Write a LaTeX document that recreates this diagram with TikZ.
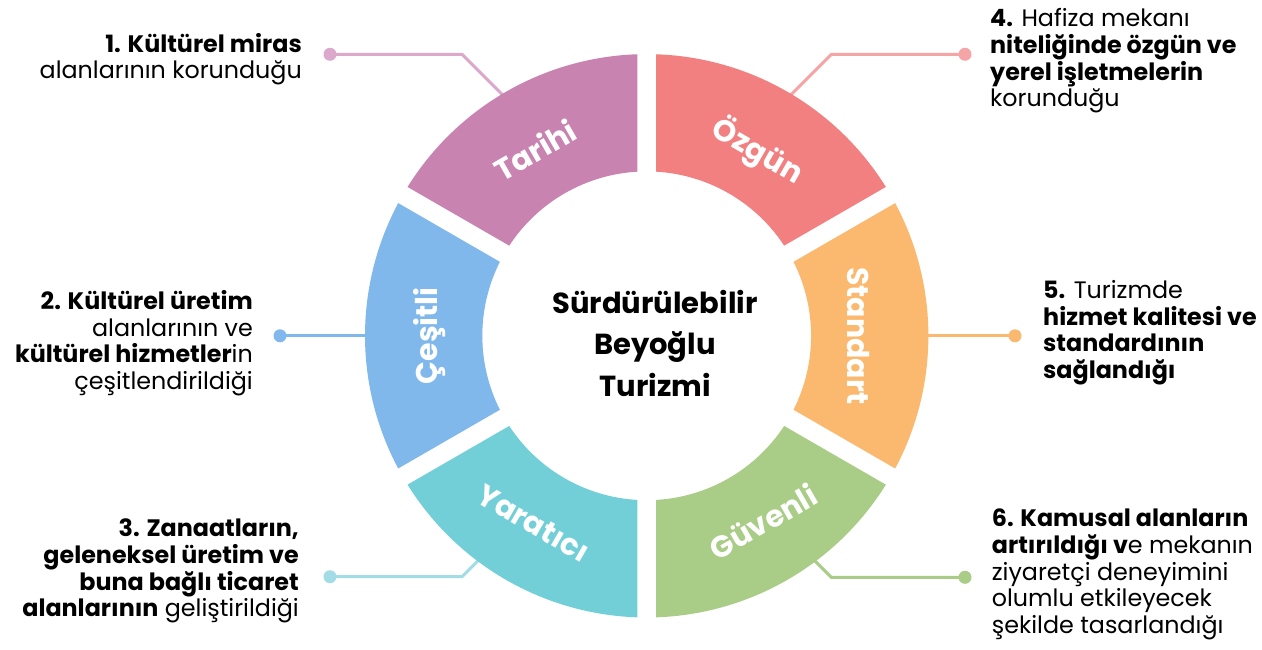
\documentclass[tikz,border=0pt]{standalone}
\usepackage{fontspec}
\setmainfont{Poppins}
\definecolor{tarC}{HTML}{C983B0}
\definecolor{ozgC}{HTML}{F28080}
\definecolor{staC}{HTML}{FBB96F}
\definecolor{guvC}{HTML}{A9CC86}
\definecolor{yarC}{HTML}{72CFD8}
\definecolor{cesC}{HTML}{80B8EC}
\definecolor{tarL}{HTML}{DCA8CB}
\definecolor{ozgL}{HTML}{F5A5A5}
\definecolor{yarL}{HTML}{A2DDE5}
\begin{document}
\begin{tikzpicture}[x=1pt,y=-1pt,
  lbl/.style={font=\fontsize{23.8}{26.7}\selectfont, inner sep=0pt, text=black},
  seglbl/.style={font=\bfseries\fontsize{30}{32}\selectfont, text=white, inner sep=0pt},
  conn/.style={line width=3pt},
  dotnode/.style={circle, inner sep=0pt, minimum size=13pt}]
\useasboundingbox (0,0) rectangle (1262,650);
\fill[white] (0,0) rectangle (1262,650);

% connector end points
\coordinate (e1) at (462,54.3);   \coordinate (c1) at (505,97.3);
\coordinate (e4) at (831.4,54.3); \coordinate (c4) at (788.4,97.3);
\coordinate (c2) at (372,335.8);
\coordinate (c5) at (922,335.8);
\coordinate (e3) at (462,576.7);  \coordinate (c3) at (481,557.7);
\coordinate (e6) at (831.4,577.3);\coordinate (c6) at (812.4,558.3);

% dots
\node[dotnode, fill=tarL] (d1) at (330,54.3) {};
\node[dotnode, fill=ozgL] (d4) at (965,54.3) {};
\node[dotnode, fill=cesC] (d2) at (280,335.8) {};
\node[dotnode, fill=staC] (d5) at (1015,335.8) {};
\node[dotnode, fill=yarL] (d3) at (330,576.7) {};
\node[dotnode, fill=guvC] (d6) at (965,577.3) {};

% connectors
\draw[conn, tarL] (d1.center) -- (e1) -- (c1);
\draw[conn, ozgL] (d4.center) -- (e4) -- (c4);
\draw[conn, cesC] (d2.center) -- (c2);
\draw[conn, staC] (d5.center) -- (c5);
\draw[conn, yarL] (d3.center) -- (e3) -- (c3);
\draw[conn, guvC] (d6.center) -- (e6) -- (c6);

% ring
\begin{scope}[shift={(646.7,335.8)}, x=1pt, y=1pt]
  \foreach \a/\c in {90/tarC, 30/ozgC, -30/staC, -90/guvC, 210/yarC, 150/cesC}{
    \fill[\c] (\a+1.9:281.7) arc[start angle=\a+1.9, end angle=\a+58.1, radius=281.7]
      -- (\a+56.74:164.4) arc[start angle=\a+56.74, end angle=\a+3.26, radius=164.4] -- cycle;
  }
  \node[seglbl, rotate=30]  (sTar) at (121:217) {Tarihi};
  \node[seglbl, rotate=-30] (sOzg) at (59:215) {Özgün};
  \node[seglbl, rotate=-90] (sSta) at (0:212) {Standart};
  \node[seglbl, rotate=30]  (sGuv) at (-58:219) {Güvenli};
  \node[seglbl, rotate=-30] (sYar) at (238.8:219) {Yaratıcı};
  \node[seglbl, rotate=90]  (sCes) at (180:217) {Çeşitli};
\end{scope}

% centre
\node[font=\bfseries\fontsize{29}{41.5}\selectfont, align=center, inner sep=0pt] (ctr) at (655,343)
  {Sürdürülebilir\\Beyoğlu\\Turizmi};

% labels (base anchor = baseline of last line)
\node[lbl, align=right, anchor=base east] (t1) at (302,79)
  {\textbf{1. Kültürel miras}\\alanlarının korunduğu};
\node[lbl, align=right, anchor=base east] (t2) at (253,389.4)
  {\textbf{2. Kültürel üretim}\\alanlarının ve\\\textbf{kültürel hizmetler}in\\çeşitlendirildiği};
\node[lbl, align=right, anchor=base east] (t3) at (299,616.8)
  {\textbf{3. Zanaatların,}\\\textbf{geleneksel üretim ve}\\\textbf{buna bağlı ticaret}\\\textbf{alanlarının} geliştirildiği};
\node[lbl, align=left, anchor=base west] (t4) at (990,106.8)
  {\textbf{4.} Hafiza mekanı\\\textbf{niteliğinde özgün ve}\\\textbf{yerel işletmelerin}\\korunduğu};
\node[lbl, align=left, anchor=base west] (t5) at (1043,378.4)
  {\textbf{5.} Turizmde\\\textbf{hizmet kalitesi ve}\\\textbf{standardının}\\\textbf{sağlandığı}};
\node[lbl, align=left, anchor=base west] (t6) at (991.7,633.5)
  {\textbf{6. Kamusal alanların}\\\textbf{artırıldığı v}e mekanın\\ziyaretçi deneyimini\\olumlu etkileyecek\\şekilde tasarlandığı};
\end{tikzpicture}
\end{document}
